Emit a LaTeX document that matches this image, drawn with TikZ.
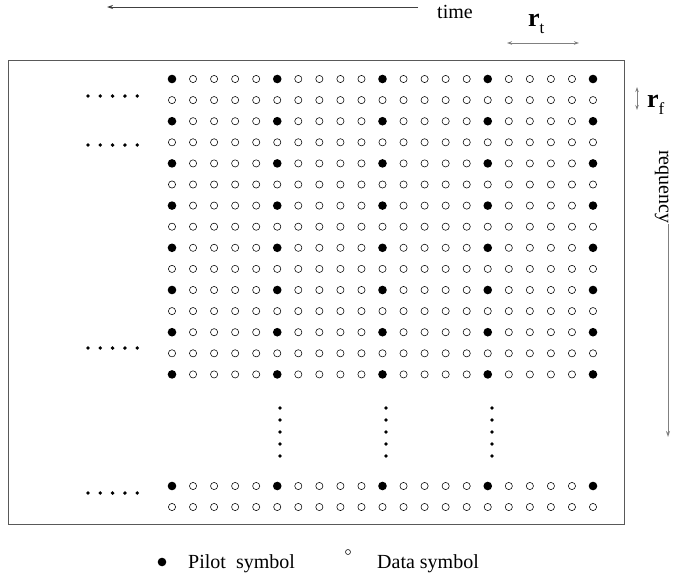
\documentclass[tikz,border=0pt]{standalone}
\usepackage{fontspec}
\setmainfont{Liberation Serif}
\usetikzlibrary{arrows.meta}

\begin{document}
\begin{tikzpicture}[x=1pt,y=-1pt,
  pilot/.style={circle,fill=black,inner sep=0pt,minimum size=8.6pt},
  datasym/.style={circle,draw=black,line width=0.55pt,inner sep=0pt,minimum size=7.2pt},
  ell/.style={circle,fill=black,inner sep=0pt,minimum size=3.8pt},
  frame/.style={draw=black!65,line width=1pt,inner sep=0pt},
  axis/.style={draw=black!75,line width=0.8pt},
  span/.style={draw=black!50,line width=1pt,{Stealth[length=5pt,width=3.5pt]}-{Stealth[length=5pt,width=3.5pt]}},
  lbl/.style={font=\fontsize{20}{24}\selectfont,inner sep=0pt}]
\useasboundingbox (0,0) rectangle (674,581);

% outer frame of the time-frequency grid
\node[frame,minimum width=616pt,minimum height=464pt] (box) at (316,292) {};

% upper block: 15 subcarrier rows x 21 symbol columns
\foreach \r in {0,...,14}{
  \foreach \c in {0,...,20}{
    \pgfmathsetmacro\xx{172+21.05*\c}
    \pgfmathsetmacro\yy{79+21.1*\r}
    \pgfmathtruncatemacro\ispilot{(mod(\r,2)==0)&&(mod(\c,5)==0)}
    \ifnum\ispilot=1
      \node[pilot] (s-\r-\c) at (\xx,\yy) {};
    \else
      \node[datasym] (s-\r-\c) at (\xx,\yy) {};
    \fi
  }
}

% last two rows
\foreach \c in {0,...,20}{
  \pgfmathsetmacro\xx{172+21.05*\c}
  \pgfmathtruncatemacro\ispilot{mod(\c,5)==0}
  \ifnum\ispilot=1
    \node[pilot] (b-0-\c) at (\xx,486) {};
  \else
    \node[datasym] (b-0-\c) at (\xx,486) {};
  \fi
  \node[datasym] (b-1-\c) at (\xx,507) {};
}

% horizontal ellipses on the left
\foreach \yy [count=\i] in {96,145,348,493}{
  \foreach \k in {0,...,4}{
    \node[ell] (h-\i-\k) at (88+12.3*\k,\yy) {};
  }
}

% vertical ellipses between the blocks
\foreach \xx [count=\i] in {280,386,492}{
  \foreach \k in {0,...,4}{
    \node[ell] (v-\i-\k) at (\xx,408+12*\k) {};
  }
}

% time axis
\coordinate (tstart) at (418,7);
\coordinate (tend) at (107,7);
\draw[axis,-{Stealth[length=6pt,width=4pt]}] (tstart) -- (tend);
\node[lbl,anchor=base west] (time) at (437,18) {time};

% pilot spacing in time
\coordinate (rtl) at (507,43);
\coordinate (rtr) at (579,43);
\draw[span] (rtl) -- (rtr);
\node[inner sep=0pt,anchor=base west] (rt) at (528,26)
  {\fontsize{26}{30}\selectfont\bfseries r\raisebox{-7pt}{\fontsize{17}{20}\mdseries\selectfont t}};

% pilot spacing in frequency
\coordinate (rft) at (637,87);
\coordinate (rfb) at (637,110);
\draw[span] (rft) -- (rfb);
\node[inner sep=0pt,anchor=base west] (rf) at (647,107)
  {\fontsize{26}{30}\selectfont\bfseries r\raisebox{-7pt}{\fontsize{17}{20}\mdseries\selectfont f}};

% frequency axis
\node[lbl,rotate=-90,anchor=base west] (freq) at (659,150) {requency};
\coordinate (fend) at (668,437);
\draw[draw=black!50,line width=1pt,-{Stealth[length=6pt,width=4pt]}] (freq.east -| fend) -- (fend);

% legend
\node[pilot] (lp) at (162,562) {};
\node[lbl,anchor=base west] (lpt) at (188,568) {Pilot\ \ symbol};
\node[datasym,minimum size=5pt] (ld) at (348,552) {};
\node[lbl,anchor=base west] (ldt) at (377,568) {Data symbol};
\end{tikzpicture}
\end{document}
